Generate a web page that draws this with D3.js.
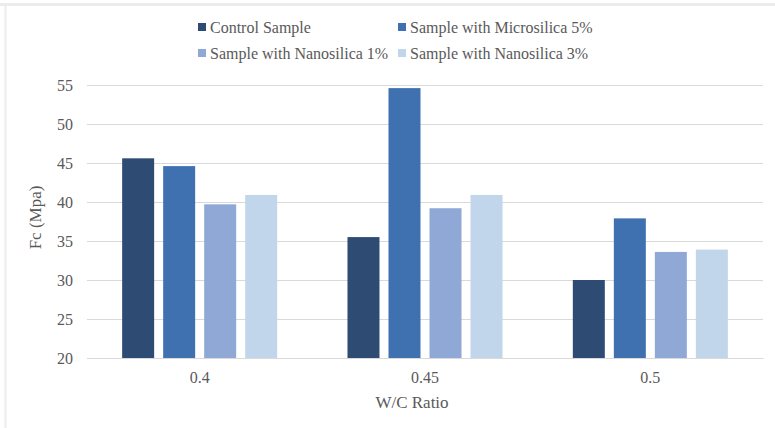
<!DOCTYPE html>
<html>
<head>
<meta charset="utf-8">
<script src="https://cdnjs.cloudflare.com/ajax/libs/d3/7.8.5/d3.min.js"></script>
<style>
  body { margin: 0; background: #fff; }
  text { font-family: "Liberation Serif", "DejaVu Serif", serif; fill: #595959; }
</style>
</head>
<body>
<script>
// Data
const ratios = ["0.4", "0.45", "0.5"];
const seriesNames = ["Control Sample", "Sample with Microsilica 5%", "Sample with Nanosilica 1%", "Sample with Nanosilica 3%"];
const control = [45.6, 35.5, 30.0];
const microsilica5 = [44.6, 54.6, 37.9];
const nanosilica1 = [39.7, 39.2, 33.6];
const nanosilica3 = [40.9, 40.9, 33.9];
const yTicks = [20, 25, 30, 35, 40, 45, 50, 55];

const colors = ["#2d4b73", "#3f71b1", "#8fa8d6", "#c1d5eb"];
const seriesValues = [control, microsilica5, nanosilica1, nanosilica3];

const W = 775, H = 428;
const margin = { top: 85, right: 12, bottom: 70, left: 87 };
const width = W - margin.left - margin.right,
      height = H - margin.top - margin.bottom;

const root = d3.select("body").append("svg")
    .attr("width", W)
    .attr("height", H);

// light frame like the screenshot
root.append("line").attr("x1", 0).attr("x2", W).attr("y1", 4.5).attr("y2", 4.5)
    .attr("stroke", "#ececec").attr("stroke-width", 3);
root.append("line").attr("x1", 5.5).attr("x2", 5.5).attr("y1", 4).attr("y2", H)
    .attr("stroke", "#ececec").attr("stroke-width", 2);

const svg = root.append("g")
    .attr("transform", `translate(${margin.left},${margin.top})`);

// Scales
const x0 = d3.scaleBand().domain(ratios).range([0, width]).paddingInner(0.312).paddingOuter(0.156);
const x1 = d3.scaleBand().domain(seriesNames).range([0, x0.bandwidth()]).paddingInner(0.22);
const y = d3.scaleLinear().domain([20, 55]).range([height, 0]);

// Gridlines
svg.append("g")
    .call(d3.axisLeft(y).tickValues(yTicks).tickSize(-width).tickFormat(""))
    .call(g => g.select(".domain").remove())
    .call(g => g.selectAll("line").attr("stroke", "#d9d9d9"));

// Bars
const groups = svg.selectAll(".grp")
    .data(ratios)
    .enter().append("g")
    .attr("transform", d => `translate(${x0(d)},0)`);

groups.selectAll("rect")
    .data((d, i) => seriesNames.map((s, j) => ({ s, j, v: seriesValues[j][i] })))
    .enter().append("rect")
    .attr("x", d => x1(d.s))
    .attr("y", d => y(d.v))
    .attr("width", x1.bandwidth())
    .attr("height", d => height - y(d.v))
    .attr("fill", d => colors[d.j]);

// X axis
const xAxis = svg.append("g")
    .attr("transform", `translate(0,${height})`)
    .call(d3.axisBottom(x0).tickSize(0).tickPadding(14));
xAxis.select(".domain").attr("stroke", "#d9d9d9");
xAxis.selectAll("text").style("font-size", "16px").style("font-family", "Liberation Serif").attr("fill", "#595959");

// Y axis
const yAxis = svg.append("g")
    .call(d3.axisLeft(y).tickValues(yTicks).tickSize(0).tickPadding(14));
yAxis.select(".domain").remove();
yAxis.selectAll("text").style("font-size", "16px").style("font-family", "Liberation Serif").attr("fill", "#595959");

// Axis titles
svg.append("text")
    .attr("x", width / 2 - 13)
    .attr("y", height + 50)
    .attr("text-anchor", "middle")
    .style("font-size", "17px")
    .text("W/C Ratio");

svg.append("text")
    .attr("transform", `translate(${-46},${height / 2 - 4}) rotate(-90)`)
    .attr("text-anchor", "middle")
    .style("font-size", "17px")
    .text("Fc (Mpa)");

// Legend
const legendPos = [[198, 28], [398, 28], [198, 54], [398, 54]];
const legend = root.selectAll(".leg")
    .data(seriesNames)
    .enter().append("g")
    .attr("transform", (d, i) => `translate(${legendPos[i][0]},${legendPos[i][1]})`);
legend.append("rect")
    .attr("x", 0).attr("y", -5)
    .attr("width", 8).attr("height", 8)
    .attr("fill", (d, i) => colors[i]);
legend.append("text")
    .attr("x", 12).attr("y", 4.5)
    .style("font-size", "16px")
    .text(d => d);
</script>
</body>
</html>
